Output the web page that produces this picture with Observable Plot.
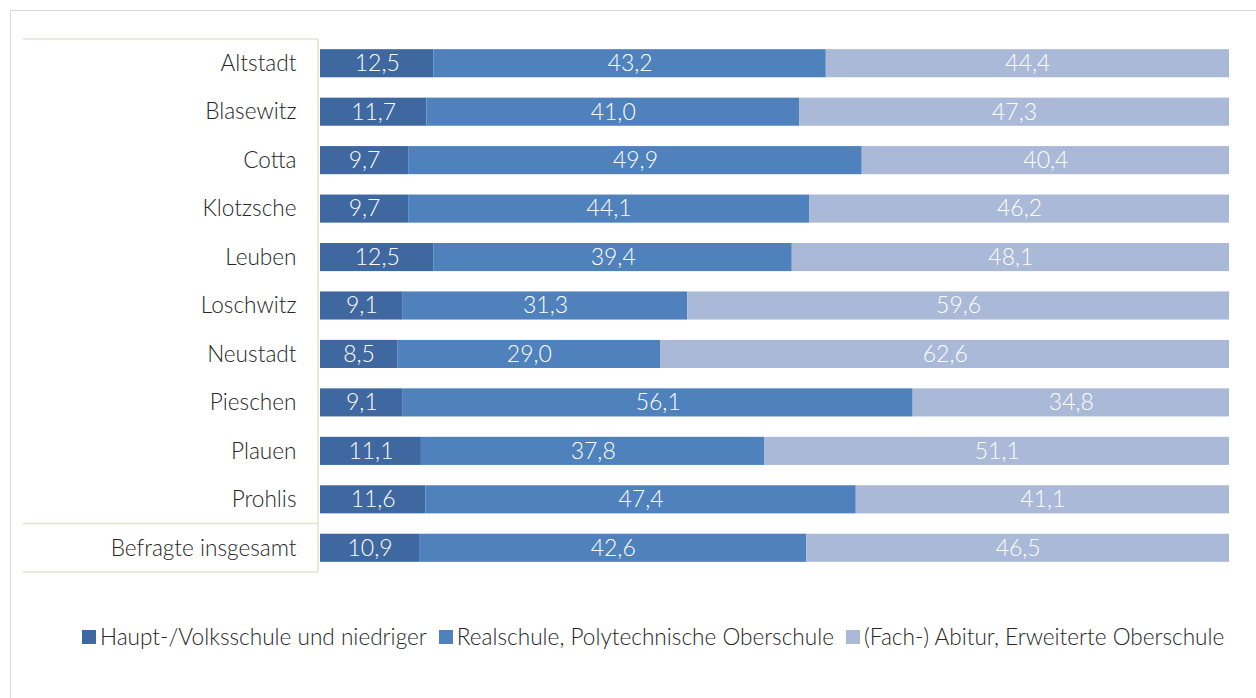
<!DOCTYPE html>
<html>
<head>
<meta charset="utf-8">
<script src="https://cdn.jsdelivr.net/npm/d3@7"></script>
<script src="https://cdn.jsdelivr.net/npm/@observablehq/plot@0.6"></script>
<style>
  html, body { margin: 0; padding: 0; background: #fff; }
  #page { position: relative; width: 1256px; height: 698px; overflow: hidden; font-family: Lato, "Open Sans", sans-serif; }
  #frame { position: absolute; left: 10px; top: 10px; width: 1260px; height: 700px; border-left: 1px solid #d9d9d9; border-top: 1px solid #d9d9d9; }
  #chart { position: absolute; left: 0; top: 0; }
  #legend { position: absolute; left: 82px; top: 623px; display: flex; align-items: center; font-size: 22.6px; color: #262626; white-space: nowrap; font-weight: 300; }
  .item { display: flex; align-items: center; margin-right: 12px; }
  .sw { width: 14px; height: 14px; margin-right: 4px; display: inline-block; }
</style>
</head>
<body>
<div id="page">
  <div id="frame"></div>
  <div id="chart"></div>
  <div id="legend"></div>
</div>
<script>
const regions = ["Altstadt", "Blasewitz", "Cotta", "Klotzsche", "Leuben", "Loschwitz", "Neustadt", "Pieschen", "Plauen", "Prohlis", "Befragte insgesamt"];
const categories = ["Haupt-/Volksschule und niedriger", "Realschule, Polytechnische Oberschule", "(Fach-) Abitur, Erweiterte Oberschule"];
const colors = ["#3f68a0", "#4f81bd", "#a9b9d7"];
const haupt  = [12.5, 11.7, 9.7, 9.7, 12.5, 9.1, 8.5, 9.1, 11.1, 11.6, 10.9];
const real   = [43.2, 41.0, 49.9, 44.1, 39.4, 31.3, 29.0, 56.1, 37.8, 47.4, 42.6];
const abitur = [44.4, 47.3, 40.4, 46.2, 48.1, 59.6, 62.6, 34.8, 51.1, 41.1, 46.5];

const series = [haupt, real, abitur];
const data = [];
regions.forEach((r, i) => {
  series.forEach((s, k) => data.push({region: r, cat: categories[k], value: s[i]}));
});
const fmt = v => v.toFixed(1).replace(".", ",");

const plot = Plot.plot({
  width: 1256,
  height: 600,
  marginLeft: 320,
  marginRight: 27,
  marginTop: 0,
  marginBottom: 0,
  style: {fontFamily: "Lato, 'Open Sans', sans-serif", fontSize: "22px", color: "#262626", background: "transparent"},
  x: {domain: [0, 1], axis: null},
  y: {domain: regions, range: [39, 572], paddingInner: 0.42, paddingOuter: 0.21, round: false, axis: null},
  color: {domain: categories, range: colors},
  marks: [
    Plot.barX(data, Plot.stackX({x: "value", y: "region", fill: "cat", offset: "normalize", order: categories})),
    Plot.textX(data, Plot.stackX({x: "value", y: "region", z: "cat", offset: "normalize", order: categories, text: d => fmt(d.value), fill: "white", fontSize: 23, fontWeight: 300})),
    Plot.axisY({tickSize: 0, tickPadding: 24, fontSize: 22.6, fontWeight: 300, label: null})
  ]
});
document.getElementById("chart").appendChild(plot);

// table-like frame lines
const ys = plot.scale("y");
const stepY = ys.step || (533 / 11);
const bwY = ys.bandwidth || stepY * 0.58;
const gapY = (stepY - bwY) / 2;
const lineTop = ys.apply(regions[0]) - gapY;
const lineSep = ys.apply(regions[regions.length - 1]) - gapY;
const lineBottom = ys.apply(regions[regions.length - 1]) + bwY + gapY;
const g = d3.select(plot).append("g").attr("stroke", "#dfe6c9").attr("stroke-width", 1.5);
[lineTop, lineSep, lineBottom].forEach(y => g.append("line").attr("x1", 23).attr("x2", 318).attr("y1", y).attr("y2", y));
g.append("line").attr("x1", 318).attr("x2", 318).attr("y1", lineTop).attr("y2", lineBottom);

// legend
const leg = document.getElementById("legend");
categories.forEach((c, i) => {
  const it = document.createElement("div");
  it.className = "item";
  const sw = document.createElement("span");
  sw.className = "sw";
  sw.style.background = colors[i];
  it.appendChild(sw);
  it.appendChild(document.createTextNode(c));
  leg.appendChild(it);
});
</script>
</body>
</html>
